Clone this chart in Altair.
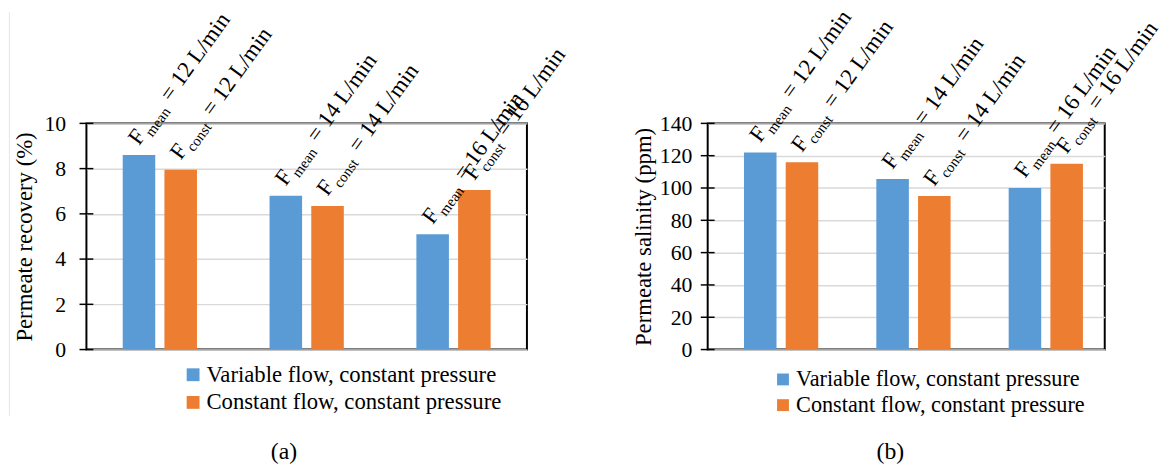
import altair as alt
import pandas as pd

# Feed flow set-points (L/min) and the two operating modes
flows = ["12", "14", "16"]
series = ["Variable flow, constant pressure", "Constant flow, constant pressure"]
subscripts = ["mean", "const"]

# (a) permeate recovery, %
recovery_variable = [8.6, 6.8, 5.1]
recovery_constant = [7.95, 6.35, 7.05]
recovery_ticks = [0, 2, 4, 6, 8, 10]

# (b) permeate salinity, ppm
salinity_variable = [122, 105.5, 100]
salinity_constant = [116, 95, 115]
salinity_ticks = [0, 20, 40, 60, 80, 100, 120, 140]

BLUE = "#5b9bd5"
ORANGE = "#ed7d31"
FONT = "Liberation Serif, Times New Roman, serif"
ANGLE = 306  # labels tilted 54 degrees up from horizontal


def build_table(var_vals, const_vals):
    rows = []
    for i, f in enumerate(flows):
        for name, sub, vals in zip(series, subscripts, (var_vals, const_vals)):
            rows.append({"flow": f, "series": name, "sub": sub,
                         "value": vals[i], "rest": f"= {f} L/min"})
    return pd.DataFrame(rows)


def panel(df, ticks, ytitle, caption, w, h, tick_font, label_pad, title_pad,
          legend_x, legend_y, legend_font, legend_symbol, legend_row, cap_x, border=False):
    x_enc = alt.X("flow:N", sort=flows, axis=None,
                  scale=alt.Scale(paddingInner=0, paddingOuter=0))
    xo_enc = alt.XOffset("series:N", sort=series,
                         scale=alt.Scale(paddingInner=0.22, paddingOuter=0.87))
    y_enc = alt.Y("value:Q",
                  scale=alt.Scale(domain=[ticks[0], ticks[-1]], nice=False),
                  axis=alt.Axis(values=ticks, title=ytitle, grid=True,
                                gridColor="#d9d9d9", gridWidth=1.5,
                                domain=False, ticks=False,
                                labelFont=FONT, labelFontSize=tick_font,
                                labelColor="black", labelPadding=label_pad,
                                titleFont=FONT, titleFontSize=23,
                                titleFontWeight="normal", titleColor="black",
                                titlePadding=title_pad))

    bars = alt.Chart(df).mark_bar().encode(
        x=x_enc, xOffset=xo_enc, y=y_enc,
        color=alt.Color("series:N",
                        scale=alt.Scale(domain=series, range=[BLUE, ORANGE]),
                        legend=alt.Legend(orient="none", legendX=legend_x,
                                          legendY=legend_y, title=None,
                                          labelFont=FONT, labelFontSize=legend_font,
                                          labelColor="black", symbolType="square",
                                          symbolSize=legend_symbol ** 2,
                                          symbolStrokeWidth=0, labelOffset=2,
                                          rowPadding=legend_row, padding=0,
                                          labelLimit=400)),
    )

    # cross tick marks on the value axis
    tick_df = pd.DataFrame({"value": ticks})
    tick_marks = alt.Chart(tick_df).mark_rule(color="black", strokeWidth=1.5).encode(
        y=y_enc, x=alt.value(-7), x2=alt.value(7))

    # rotated "F_sub = N L/min" labels above every bar
    base = alt.Chart(df)
    lbl_f = base.mark_text(angle=ANGLE, align="left", baseline="alphabetic",
                           font=FONT, fontSize=23, dx=7.3, dy=-5.3,
                           color="black").encode(x=x_enc, xOffset=xo_enc, y=y_enc,
                                                 text=alt.value("F"))
    lbl_sub = base.mark_text(angle=ANGLE, align="left", baseline="alphabetic",
                             font=FONT, fontSize=15, dx=22, dy=0.5,
                             color="black").encode(x=x_enc, xOffset=xo_enc, y=y_enc,
                                                   text="sub:N")
    lbl_rest = base.mark_text(angle=ANGLE, align="left", baseline="alphabetic",
                              font=FONT, fontSize=23, dx=62, dy=-5.3,
                              color="black").encode(x=x_enc, xOffset=xo_enc, y=y_enc,
                                                    text="rest:N")

    cap = alt.Chart(pd.DataFrame({"t": [caption]})).mark_text(
        font=FONT, fontSize=24, align="center", baseline="alphabetic",
        color="black").encode(text="t:N", x=alt.value(cap_x), y=alt.value(340))

    layers = [bars, tick_marks, lbl_f, lbl_sub, lbl_rest, cap]
    if border:
        edge = alt.Chart(pd.DataFrame({"e": [0]})).mark_rule(
            color="#e6e6e6", strokeWidth=1).encode(
            x=alt.value(-78), y=alt.value(-113), y2=alt.value(296))
        layers.append(edge)
    return alt.layer(*layers).properties(width=w, height=h)


left = panel(build_table(recovery_variable, recovery_constant), recovery_ticks,
             "Permeate recovery (%)", "(a)", 446, 229, 22, 21, 8,
             96.5, 243, 23, 13, 4, 200, border=True)
right = panel(build_table(salinity_variable, salinity_constant), salinity_ticks,
              "Permeate salinity (ppm)", "(b)", 402, 229, 22, 16, 4,
              65, 248, 22.5, 12, 3, 185)

chart = alt.hconcat(left, right, spacing=183, bounds="flush").resolve_scale(
    color="independent").resolve_legend(color="independent").properties(
    padding={"left": 7.5, "top": 2, "right": 0, "bottom": 0},
    background="white",
).configure(font=FONT).configure_view(stroke="black", strokeWidth=2).configure_axis(
    labelFont=FONT, titleFont=FONT).configure_legend(labelFont=FONT)

chart.save("out.html", embed_options={"renderer": "svg", "actions": False})
